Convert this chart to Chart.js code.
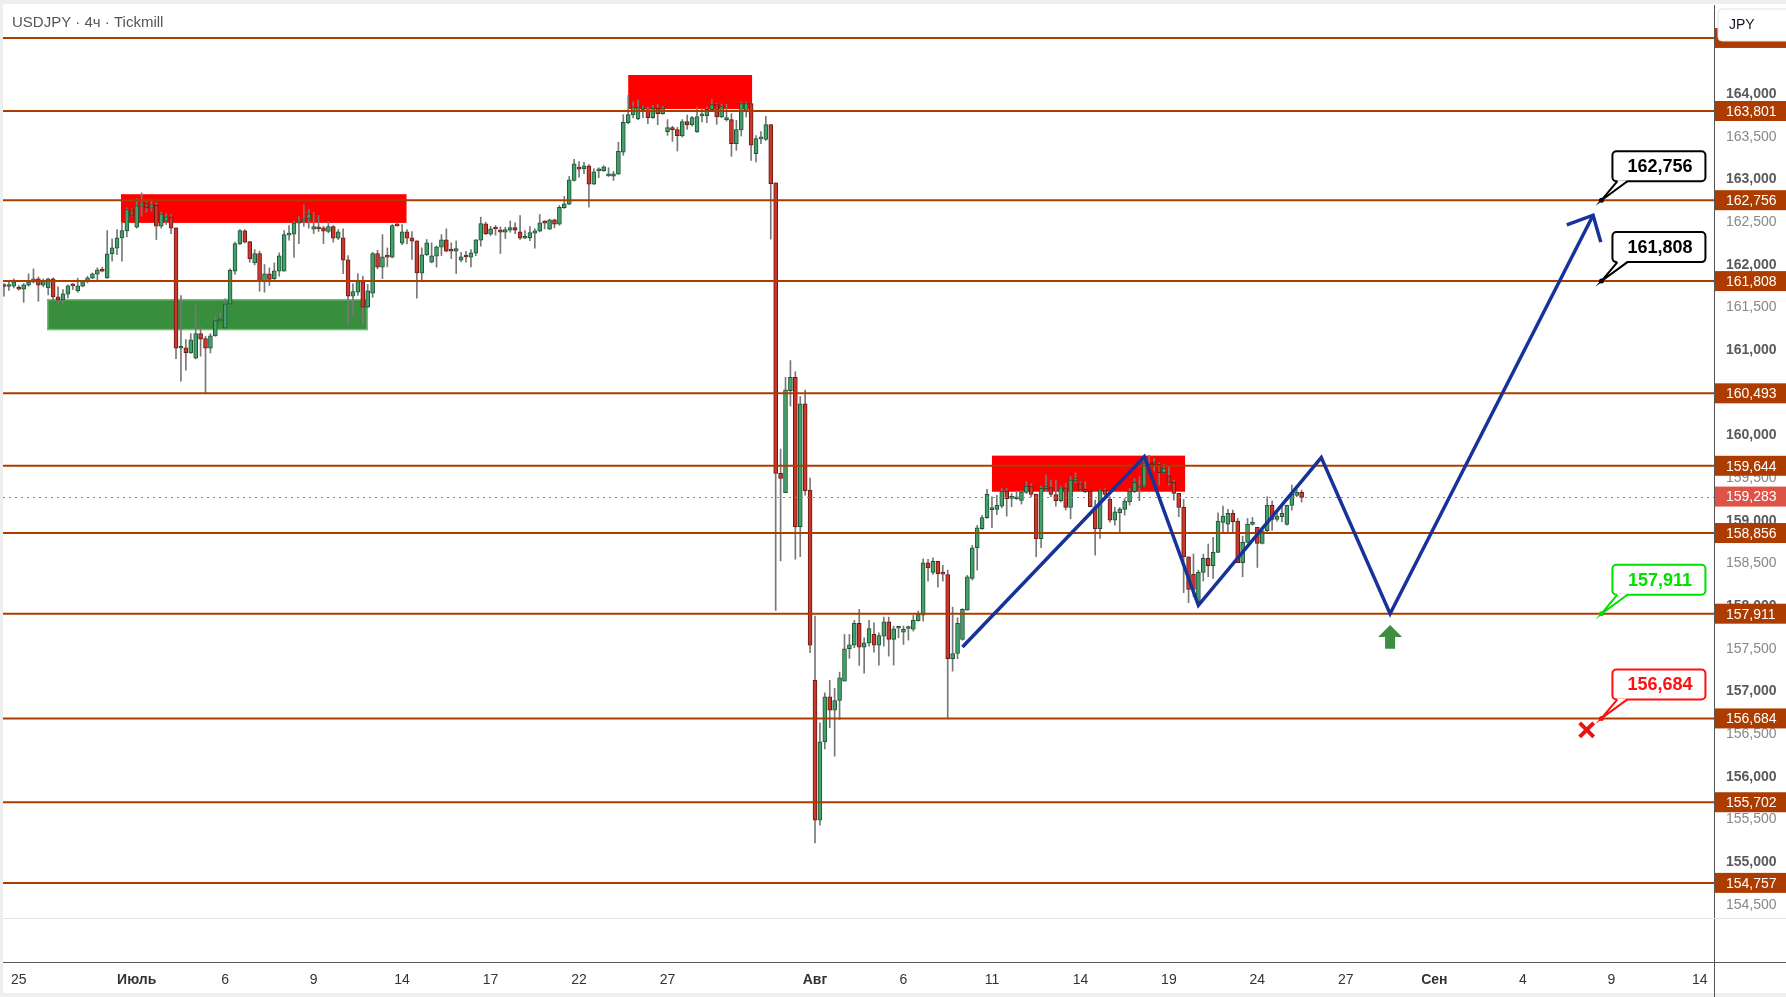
<!DOCTYPE html>
<html>
<head>
<meta charset="utf-8">
<script src="https://cdn.jsdelivr.net/npm/chart.js@4.4.1/dist/chart.umd.min.js"></script>
<style>
  html, body { margin: 0; padding: 0; background: #fff; overflow: hidden; }
  canvas { display: block; }
</style>
</head>
<body>
<canvas id="chart" width="1786" height="997" style="width:1786px;height:997px"></canvas>
<script>
// USDJPY 4h candles (bar index 0..264)
const opens = [
  161.750,161.745,161.748,161.732,161.713,161.760,161.795,161.834,161.760,161.728,
  161.834,161.623,161.588,161.654,161.756,161.693,161.748,161.803,161.842,161.889,
  161.943,161.846,162.127,162.193,162.314,162.396,162.643,162.439,162.685,162.725,
  162.662,162.697,162.451,162.510,162.561,162.432,161.021,161.025,160.967,160.904,
  161.193,161.135,161.021,161.166,161.338,161.256,161.537,161.924,162.244,162.396,
  162.271,162.021,162.131,161.799,161.893,161.834,161.924,161.924,162.346,162.357,
  162.486,162.510,162.537,162.416,162.443,162.432,162.389,162.447,162.310,162.314,
  162.057,161.631,161.678,161.803,161.502,161.666,162.131,161.971,162.095,162.088,
  162.462,162.252,162.385,162.314,162.279,161.900,162.115,162.029,162.100,162.205,
  162.291,162.165,162.158,162.053,162.095,162.088,162.135,162.287,162.478,162.357,
  162.423,162.408,162.381,162.404,162.436,162.385,162.310,162.315,162.369,162.393,
  162.493,162.416,162.526,162.475,162.667,162.710,162.988,163.125,163.121,163.160,
  162.945,163.100,163.101,163.040,163.038,163.062,163.320,163.664,163.754,163.707,
  163.815,163.817,163.723,163.836,163.770,163.559,163.606,163.582,163.508,163.676,
  163.637,163.555,163.744,163.747,163.817,163.876,163.731,163.700,163.700,163.418,
  163.578,163.809,163.887,163.301,163.475,163.469,163.641,162.960,159.555,159.330,
  160.525,160.680,158.930,160.370,159.360,157.129,155.491,156.410,156.937,156.781,
  156.894,157.121,157.500,157.543,157.797,157.520,157.570,157.668,157.543,157.649,
  157.817,157.610,157.740,157.696,157.738,157.731,157.828,157.895,158.508,158.395,
  158.524,158.380,158.368,157.383,157.445,157.610,157.953,158.325,158.684,158.907,
  159.036,159.130,159.133,159.172,159.347,159.262,159.258,159.238,159.332,159.406,
  159.312,158.789,159.375,159.390,159.308,159.234,159.386,159.156,159.468,159.437,
  159.367,159.347,159.164,158.906,159.359,159.254,159.008,159.094,159.133,159.222,
  159.340,159.390,159.406,159.679,159.662,159.660,159.562,159.527,159.449,159.320,
  159.156,158.578,158.372,158.052,158.395,158.559,158.473,158.629,158.980,158.961,
  159.086,158.996,158.508,158.746,158.957,158.922,158.734,158.883,159.180,159.016,
  159.047,158.957,159.180,159.297,159.332
];
const highs = [
  161.779,161.810,161.834,161.756,161.779,161.893,161.951,161.857,161.834,161.842,
  161.846,161.740,161.709,161.764,161.779,161.842,161.818,161.865,161.904,161.963,
  161.971,162.400,162.303,162.412,162.498,162.666,162.654,162.775,162.842,162.764,
  162.764,162.725,162.615,162.600,162.588,162.432,161.639,161.123,161.193,161.521,
  161.271,161.162,161.193,161.396,161.435,161.600,161.951,162.264,162.412,162.412,
  162.271,162.178,162.158,162.002,161.963,162.021,162.139,162.400,162.459,162.510,
  162.561,162.705,162.646,162.615,162.576,162.451,162.506,162.459,162.412,162.420,
  162.107,161.775,161.896,161.865,161.768,162.146,162.170,162.353,162.197,162.471,
  162.482,162.471,162.412,162.389,162.279,162.197,162.295,162.256,162.217,162.353,
  162.420,162.256,162.279,162.146,162.158,162.178,162.295,162.557,162.498,162.451,
  162.459,162.443,162.440,162.514,162.490,162.577,162.401,162.448,162.420,162.588,
  162.518,162.534,162.534,162.694,162.800,163.035,163.234,163.207,163.199,163.172,
  163.125,163.136,163.160,163.136,163.093,163.434,163.758,163.985,163.907,163.927,
  163.860,163.848,163.868,163.880,163.856,163.700,163.622,163.610,163.700,163.754,
  163.739,163.848,163.825,163.848,163.934,163.888,163.884,163.880,163.770,163.692,
  163.907,163.907,163.895,163.512,163.559,163.739,163.641,162.960,159.840,160.680,
  160.877,160.745,160.455,160.530,159.500,157.883,156.632,156.984,157.129,157.035,
  157.226,157.668,157.668,157.832,157.961,157.629,157.832,157.805,157.688,157.871,
  157.871,157.766,157.766,157.766,157.766,157.891,157.942,158.555,158.547,158.567,
  158.524,158.477,158.422,157.988,157.863,157.970,158.360,158.711,158.946,159.063,
  159.368,159.280,159.297,159.379,159.379,159.320,159.351,159.351,159.457,159.437,
  159.312,159.406,159.535,159.476,159.476,159.406,159.437,159.515,159.562,159.457,
  159.457,159.347,159.242,159.367,159.375,159.281,159.156,159.156,159.261,159.379,
  159.496,159.515,159.769,159.769,159.730,159.679,159.660,159.640,159.476,159.320,
  159.250,158.578,158.610,158.422,158.610,158.727,158.805,159.094,159.172,159.133,
  159.125,159.027,158.820,159.027,159.039,158.922,158.922,159.281,159.234,159.094,
  159.183,159.183,159.418,159.367,159.359
];
const lows = [
  161.631,161.700,161.728,161.701,161.560,161.748,161.787,161.572,161.740,161.646,
  161.584,161.545,161.537,161.611,161.709,161.678,161.740,161.787,161.834,161.818,
  161.916,161.838,162.041,162.119,162.041,162.326,162.561,162.428,162.568,162.615,
  162.627,162.295,162.428,162.471,162.365,160.900,160.635,160.764,160.960,160.896,
  160.928,160.498,160.967,161.162,161.334,161.256,161.533,161.885,162.236,162.256,
  162.029,161.998,161.689,161.678,161.756,161.827,161.865,161.924,162.287,162.084,
  162.248,162.451,162.428,162.365,162.389,162.248,162.373,162.264,162.295,161.896,
  161.287,161.416,161.639,161.287,161.494,161.619,161.951,161.838,161.975,162.080,
  162.451,162.236,162.244,162.061,161.607,161.818,162.107,162.021,161.971,162.107,
  162.150,162.072,161.896,162.037,162.029,161.975,162.107,162.217,162.353,162.342,
  162.346,162.131,162.307,162.381,162.365,162.295,162.305,162.283,162.193,162.385,
  162.420,162.412,162.432,162.463,162.659,162.702,162.980,163.027,163.066,162.675,
  162.940,163.019,163.093,163.034,162.988,163.058,163.281,163.652,163.719,163.700,
  163.723,163.652,163.715,163.641,163.762,163.516,163.445,163.332,163.496,163.586,
  163.625,163.551,163.672,163.664,163.809,163.645,163.723,163.684,163.269,163.340,
  163.508,163.731,163.222,163.203,163.418,163.457,162.300,157.950,158.530,159.330,
  160.345,158.550,158.580,159.300,157.453,155.226,155.433,156.328,156.574,156.242,
  156.672,157.121,157.387,157.512,157.305,157.215,157.531,157.461,157.309,157.531,
  157.414,157.309,157.629,157.551,157.602,157.707,157.824,157.824,158.293,158.371,
  158.223,158.293,156.679,157.238,157.383,157.600,157.953,158.305,158.422,158.899,
  159.028,158.920,159.070,159.152,159.055,159.164,159.250,159.195,159.320,159.281,
  158.578,158.684,159.351,159.281,159.172,159.219,159.125,159.023,159.445,159.347,
  159.328,159.164,158.598,158.793,159.289,158.984,158.949,158.852,159.066,159.183,
  159.328,159.234,159.398,159.593,159.585,159.418,159.554,159.418,159.242,159.047,
  158.157,158.040,158.110,158.013,158.293,158.344,158.325,158.625,158.859,158.852,
  158.871,158.508,158.344,158.738,158.949,158.453,158.727,158.871,158.891,158.996,
  158.988,158.949,159.125,159.281,159.218
];
const closes = [
  161.745,161.750,161.799,161.713,161.764,161.800,161.834,161.760,161.803,161.834,
  161.623,161.584,161.658,161.752,161.752,161.752,161.803,161.846,161.893,161.939,
  161.924,162.127,162.197,162.314,162.400,162.646,162.568,162.693,162.725,162.666,
  162.701,162.451,162.596,162.561,162.428,161.021,161.025,160.967,161.119,161.193,
  161.127,161.021,161.166,161.346,161.365,161.541,161.935,162.248,162.400,162.264,
  162.068,162.131,161.807,161.893,161.827,161.928,162.104,162.353,162.365,162.490,
  162.514,162.537,162.596,162.447,162.420,162.393,162.447,162.310,162.385,162.053,
  161.631,161.685,161.803,161.502,161.693,162.131,161.971,162.092,162.088,162.459,
  162.455,162.385,162.310,162.275,161.904,162.115,162.256,162.104,162.209,162.291,
  162.158,162.160,162.189,162.092,162.090,162.139,162.291,162.482,162.361,162.420,
  162.418,162.381,162.412,162.436,162.404,162.311,162.315,162.377,162.397,162.491,
  162.488,162.526,162.475,162.671,162.714,162.995,163.183,163.120,163.160,162.945,
  163.089,163.105,163.148,163.042,163.066,163.328,163.668,163.758,163.848,163.848,
  163.817,163.723,163.836,163.770,163.836,163.606,163.582,163.512,163.676,163.637,
  163.723,163.735,163.747,163.821,163.876,163.731,163.852,163.703,163.418,163.582,
  163.887,163.887,163.402,163.477,163.478,163.641,162.950,159.555,159.496,160.533,
  160.680,158.930,160.370,159.350,157.543,155.491,156.410,156.937,156.781,156.894,
  157.160,157.500,157.547,157.797,157.520,157.570,157.738,157.543,157.656,157.817,
  157.610,157.735,157.746,157.727,157.743,157.832,157.903,158.508,158.446,158.524,
  158.379,158.375,157.383,157.445,157.797,157.961,158.344,158.684,158.918,159.036,
  159.309,159.135,159.180,159.347,159.258,159.267,159.262,159.336,159.406,159.308,
  158.789,159.379,159.406,159.308,159.234,159.386,159.156,159.476,159.500,159.359,
  159.340,159.164,158.906,159.359,159.308,159.008,159.105,159.137,159.230,159.347,
  159.449,159.410,159.679,159.656,159.658,159.562,159.613,159.449,159.320,159.156,
  158.578,158.196,158.196,158.395,158.559,158.473,158.629,158.996,159.055,159.086,
  158.988,158.508,158.746,158.957,158.962,158.734,158.883,159.180,159.016,159.055,
  159.086,159.180,159.312,159.336,159.273
];

// time axis: bar index of each label
const xTickPos = [3, 27, 45, 63, 81, 99, 117, 135, 165, 183, 201, 219, 237, 255, 273, 291, 309, 327, 345];
const xTickLabels = ['25', 'Июль', '6', '9', '14', '17', '22', '27', 'Авг', '6', '11', '14', '19', '24', '27', 'Сен', '4', '9', '14'];
const yTicks = [154.5, 155, 155.5, 156, 156.5, 157, 157.5, 158, 158.5, 159, 159.5, 160, 160.5, 161, 161.5, 162, 162.5, 163, 163.5, 164];

// horizontal levels and current price
const levels = [164.657, 163.801, 162.756, 161.808, 160.493, 159.644, 158.856, 157.911, 156.684, 155.702, 154.757];
const lastPrice = 159.283;

// zones (bar index from/to, price high/low)
const boxFrom = [23.8, 8.9, 127.0, 201.0];
const boxTo = [81.9, 73.9, 152.2, 240.3];
const boxHi = [162.826, 161.590, 164.223, 159.763];
const boxLo = [162.490, 161.240, 163.824, 159.340];

// projected path
const zigK = [195, 232, 243, 268, 282, 323.3];
const zigP = [157.52, 159.75, 158.01, 159.74, 157.91, 162.58];

// targets / markers
const calloutK = 325;
const calloutP = [162.756, 161.808, 157.911, 156.684];
const buyK = 282, buyLo = 157.50, buyHi = 157.78;
const stopK = 322, stopP = 156.55;

const fmt = v => v.toFixed(3).replace('.', ',');
const isWhole = c => !!(c && c.tick) && Number.isInteger(c.tick.value);
const isMonth = c => !!c && c.index !== undefined && isNaN(Number(xTickLabels[c.index]));

Chart.defaults.font.family = "'Liberation Sans', Arial, sans-serif";

const boxColors = ['#ff0000', '#388e3c', '#ff0000', '#ff0000'];
const boxEdges = [null, '#6fbf73', null, null];
const calloutColors = ['#000000', '#000000', '#00e000', '#ff1010'];
const levelColor = '#ad3c00';

const isUp = opens.map((o, i) => closes[i] >= o);

const overlay = {
  id: 'overlay',
  beforeDraw(chart) {
    const ctx = chart.ctx;
    ctx.save();
    ctx.fillStyle = '#efefef';
    ctx.fillRect(0, 0, chart.width, chart.height);
    ctx.fillStyle = '#ffffff';
    ctx.fillRect(3, 4, chart.width - 3, chart.height - 8);
    ctx.restore();
  },
  beforeDatasetsDraw(chart) {
    const { ctx, scales: { x: xs, y: ys } } = chart;
    ctx.save();
    boxFrom.forEach((k0, i) => {
      const x0 = xs.getPixelForValue(k0), x1 = xs.getPixelForValue(boxTo[i]);
      const y0 = ys.getPixelForValue(boxHi[i]), y1 = ys.getPixelForValue(boxLo[i]);
      ctx.fillStyle = boxColors[i];
      ctx.fillRect(x0, y0, x1 - x0, y1 - y0);
      if (boxEdges[i]) {
        ctx.strokeStyle = boxEdges[i];
        ctx.lineWidth = 1.5;
        ctx.strokeRect(x0, y0, x1 - x0, y1 - y0);
      }
    });
    ctx.restore();
  },
  beforeDatasetDraw(chart, args) {
    if (args.index !== 2) return;
    const { ctx, chartArea: a, scales: { y: ys } } = chart;
    ctx.save();
    // current price dotted line
    const yl = Math.round(ys.getPixelForValue(lastPrice)) + 0.5;
    ctx.strokeStyle = '#d9605a';
    ctx.lineWidth = 1;
    ctx.setLineDash([2, 4]);
    ctx.beginPath(); ctx.moveTo(a.left, yl); ctx.lineTo(a.right, yl); ctx.stroke();
    ctx.setLineDash([]);
    ctx.strokeStyle = levelColor;
    ctx.lineWidth = 2;
    levels.forEach(p => {
      const y = ys.getPixelForValue(p);
      ctx.beginPath(); ctx.moveTo(a.left, y); ctx.lineTo(a.right, y); ctx.stroke();
    });
    ctx.restore();
  },
  afterDraw(chart) {
    const { ctx, chartArea: a, scales: { x: xs, y: ys } } = chart;
    ctx.save();

    // arrow head on the projected path
    const n = zigK.length;
    const tx = xs.getPixelForValue(zigK[n - 1]), ty = ys.getPixelForValue(zigP[n - 1]);
    const px = xs.getPixelForValue(zigK[n - 2]), py = ys.getPixelForValue(zigP[n - 2]);
    const ang = Math.atan2(py - ty, px - tx);
    ctx.strokeStyle = '#17339a';
    ctx.lineWidth = 3.5;
    ctx.beginPath();
    ctx.moveTo(tx + 28 * Math.cos(ang + 0.75), ty + 28 * Math.sin(ang + 0.75));
    ctx.lineTo(tx, ty);
    ctx.lineTo(tx + 28 * Math.cos(ang - 0.75), ty + 28 * Math.sin(ang - 0.75));
    ctx.stroke();

    // green buy arrow
    const bx = xs.getPixelForValue(buyK);
    const bTop = ys.getPixelForValue(buyHi), bBot = ys.getPixelForValue(buyLo);
    ctx.fillStyle = '#3b8f3e';
    ctx.beginPath();
    ctx.moveTo(bx, bTop);
    ctx.lineTo(bx + 12, bTop + 12);
    ctx.lineTo(bx + 5, bTop + 12);
    ctx.lineTo(bx + 5, bBot);
    ctx.lineTo(bx - 5, bBot);
    ctx.lineTo(bx - 5, bTop + 12);
    ctx.lineTo(bx - 12, bTop + 12);
    ctx.closePath();
    ctx.fill();

    // red cross
    const sx = xs.getPixelForValue(stopK), sy = ys.getPixelForValue(stopP);
    ctx.strokeStyle = '#ee1111';
    ctx.lineWidth = 4;
    ctx.beginPath();
    ctx.moveTo(sx - 7, sy - 7); ctx.lineTo(sx + 7, sy + 7);
    ctx.moveTo(sx + 7, sy - 7); ctx.lineTo(sx - 7, sy + 7);
    ctx.stroke();

    // callouts
    calloutP.forEach((p, i) => {
      const x = xs.getPixelForValue(calloutK), y = ys.getPixelForValue(p);
      const c = calloutColors[i];
      const left = x + 11, top = y - 49, w = 93, h = 30;
      ctx.lineWidth = 2;
      ctx.strokeStyle = c;
      ctx.fillStyle = '#fff';
      ctx.beginPath();
      ctx.roundRect(left, top, w, h, 4);
      ctx.fill(); ctx.stroke();
      ctx.beginPath();
      ctx.moveTo(left + 5, top + h - 1);
      ctx.lineTo(x, y);
      ctx.lineTo(left + 15, top + h - 1);
      ctx.closePath();
      ctx.fill();
      ctx.beginPath();
      ctx.moveTo(left + 5, top + h); ctx.lineTo(x, y); ctx.lineTo(left + 15, top + h);
      ctx.stroke();
      ctx.fillStyle = c;
      ctx.beginPath(); ctx.arc(x, y, 2.5, 0, Math.PI * 2); ctx.fill();
      ctx.font = "bold 18px 'Liberation Sans', Arial, sans-serif";
      ctx.textAlign = 'center';
      ctx.textBaseline = 'middle';
      ctx.fillText(fmt(p), left + w / 2 + 1, top + h / 2 + 1);
    });

    // separators and axis lines
    ctx.strokeStyle = '#e0e3eb';
    ctx.lineWidth = 1;
    ctx.beginPath(); ctx.moveTo(a.left, a.bottom - 43.5); ctx.lineTo(chart.width, a.bottom - 43.5); ctx.stroke();
    ctx.strokeStyle = '#555';
    ctx.beginPath();
    ctx.moveTo(a.right + 0.5, a.bottom); ctx.lineTo(a.right + 0.5, chart.height);
    ctx.moveTo(a.right, a.bottom + 0.5); ctx.lineTo(chart.width, a.bottom + 0.5);
    ctx.stroke();

    // price tags on the axis (the currency button hides the topmost one)
    const btnBottom = 41;
    ctx.font = "14px 'Liberation Sans', Arial, sans-serif";
    ctx.textAlign = 'left';
    ctx.textBaseline = 'middle';
    const tag = (p, bg) => {
      const y = ys.getPixelForValue(p);
      ctx.fillStyle = bg;
      ctx.fillRect(a.right + 1, y - 10, chart.width - a.right - 1, 20);
      if (y - 8 > btnBottom) {
        ctx.fillStyle = '#fff';
        ctx.fillText(fmt(p), a.right + 12, y + 1);
      }
    };
    levels.forEach(p => tag(p, levelColor));
    tag(lastPrice, '#dd5347');

    // currency button
    ctx.fillStyle = '#fff';
    ctx.strokeStyle = '#e0e3eb';
    ctx.beginPath();
    ctx.roundRect(a.right + 4, 9, 72, btnBottom - 9, 4);
    ctx.fill(); ctx.stroke();
    ctx.fillStyle = '#131722';
    ctx.fillText('JPY', a.right + 15, 25);

    // title
    ctx.font = "15px 'Liberation Sans', Arial, sans-serif";
    ctx.fillStyle = '#555';
    ctx.fillText('USDJPY · 4ч · Tickmill', 12, 23);
    ctx.restore();
  }
};

new Chart(document.getElementById('chart'), {
  type: 'bar',
  data: {
    datasets: [
      {
        data: opens.map((o, i) => ({ x: i, y: [o, closes[i]] })),
        backgroundColor: isUp.map(u => u ? '#44a06a' : '#c9382d'),
        borderColor: isUp.map(u => u ? '#1d5534' : '#6a1a12'),
        borderWidth: 1,
        borderSkipped: false,
        barThickness: 4,
        minBarLength: 2,
        grouped: false,
        order: 1
      },
      {
        data: lows.map((l, i) => ({ x: i, y: [l, highs[i]] })),
        backgroundColor: '#787878',
        barThickness: 1,
        grouped: false,
        order: 2
      },
      {
        type: 'line',
        data: zigK.map((k, i) => ({ x: k, y: zigP[i] })),
        borderColor: '#17339a',
        borderWidth: 3.5,
        pointRadius: 0,
        tension: 0,
        borderJoinStyle: 'miter',
        order: 0
      }
    ]
  },
  options: {
    responsive: false,
    devicePixelRatio: 1,
    animation: false,
    layout: { padding: { top: 5, left: 3, right: 0, bottom: 0 } },
    plugins: {
      legend: { display: false },
      tooltip: { enabled: false }
    },
    scales: {
      x: {
        type: 'linear',
        min: -0.2,
        max: 347.9,
        offset: false,
        grid: { display: false, drawTicks: false },
        border: { display: true, color: '#555' },
        afterBuildTicks: s => { s.ticks = xTickPos.map(v => ({ value: v })); },
        afterFit: s => { s.height = 35; s.paddingLeft = 0; s.paddingRight = 0; },
        ticks: {
          autoSkip: false,
          maxRotation: 0,
          padding: 10,
          color: '#333',
          font: c => ({ size: 14, weight: isMonth(c) ? 'bold' : 'normal' }),
          callback: (v, i) => xTickLabels[i]
        }
      },
      y: {
        type: 'linear',
        position: 'right',
        min: 153.830,
        max: 165.043,
        grid: { display: false, drawTicks: false },
        border: { display: true, color: '#555' },
        afterBuildTicks: s => { s.ticks = yTicks.map(v => ({ value: v })); },
        afterFit: s => { s.width = 72; s.paddingTop = 0; s.paddingBottom = 0; },
        ticks: {
          autoSkip: false,
          padding: 12,
          color: c => isWhole(c) ? '#5a5a5a' : '#888',
          font: c => ({ size: 14, weight: isWhole(c) ? 'bold' : 'normal' }),
          callback: v => fmt(v)
        }
      }
    }
  },
  plugins: [overlay]
});
</script>
</body>
</html>
